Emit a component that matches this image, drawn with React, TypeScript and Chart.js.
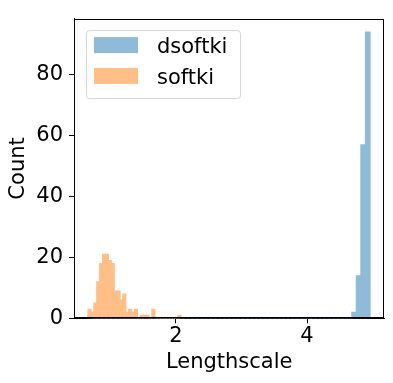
import { useEffect, useRef } from "react";
import { Chart, registerables } from "chart.js";

Chart.register(...registerables);

// ---- data (histogram counts) ----
const seriesLabels = ["dsoftki", "softki"];

// dsoftki: 62 bins from 0.658 to 4.962
const dsoftkiBinStart = 0.658;
const dsoftkiBinWidth = 0.06942;
const dsoftkiCounts = [
  1, 0, 0, 0, 0, 0, 0, 0, 0, 0,
  0, 0, 0, 0, 0, 0, 0, 0, 0, 0,
  0, 0, 0, 0, 0, 0, 0, 0, 0, 0,
  0, 0, 0, 0, 0, 0, 0, 0, 0, 0,
  0, 0, 0, 0, 0, 0, 0, 0, 0, 0,
  0, 0, 0, 0, 0, 0, 0, 0, 2, 14,
  57, 94,
];

// softki: 32 bins from 0.658 to 2.076
const softkiBinStart = 0.658;
const softkiBinWidth = 0.04431;
const softkiCounts = [
  3, 2, 5, 12, 18, 21, 21, 19, 18, 9,
  9, 6, 8, 2, 3, 2, 3, 0, 1, 1,
  1, 0, 3, 0, 0, 0, 0, 0, 0, 0,
  0, 1,
];

const xTickValues = [2, 4];
const yTickValues = [0, 20, 40, 60, 80];
const xRange = [0.443, 5.18];
const yRange = [0, 98.4];

// tab:blue / tab:orange at 50% alpha, pre-blended on white
const seriesColors = ["rgb(143,187,217)", "rgb(255,191,134)"];

const FONT = "'DejaVu Sans', 'Liberation Sans', sans-serif";
const FONT_SIZE = 21;

const framePlugin = {
  id: "frame",
  afterDatasetsDraw(chart: any) {
    const { ctx, chartArea } = chart;
    const l = Math.round(chartArea.left) + 0.5;
    const t = Math.round(chartArea.top) + 0.5;
    const r = Math.round(chartArea.right) - 0.5;
    const b = Math.round(chartArea.bottom) - 0.5;
    ctx.save();
    ctx.strokeStyle = "#000";
    ctx.lineWidth = 1;
    ctx.strokeRect(l, t, r - l, b - t);
    ctx.restore();
  },
};

const legendPlugin = {
  id: "insideLegend",
  afterDraw(chart: any) {
    const { ctx, chartArea } = chart;
    const x0 = chartArea.left + 12;
    const y0 = chartArea.top + 11.5;
    const w = 154;
    const h = 68;
    ctx.save();
    ctx.beginPath();
    ctx.roundRect(x0 + 0.5, y0 + 0.5, w, h, 3);
    ctx.fillStyle = "rgba(255,255,255,0.8)";
    ctx.fill();
    ctx.strokeStyle = "rgba(204,204,204,0.8)";
    ctx.lineWidth = 1;
    ctx.stroke();
    const sets = [...chart.data.datasets].sort((a: any, b: any) => a.legendIndex - b.legendIndex);
    sets.forEach((ds: any, i: number) => {
      const rowTop = y0 + 7 + i * 30.8;
      ctx.fillStyle = ds.backgroundColor;
      ctx.fillRect(x0 + 8, rowTop, 44, 16);
      ctx.fillStyle = "#000";
      ctx.font = `${FONT_SIZE}px ${FONT}`;
      ctx.textBaseline = "alphabetic";
      ctx.textAlign = "left";
      ctx.fillText(ds.label, x0 + 71, rowTop + 16);
    });
    ctx.restore();
  },
};

export default function App() {
  const canvasRef = useRef<HTMLCanvasElement | null>(null);

  useEffect(() => {
    const canvas = canvasRef.current;
    if (!canvas) return;

    const dsoftkiData = dsoftkiCounts.map((c, i) => ({
      x: dsoftkiBinStart + (i + 0.5) * dsoftkiBinWidth,
      y: c,
    }));
    const softkiData = softkiCounts.map((c, i) => ({
      x: softkiBinStart + (i + 0.5) * softkiBinWidth,
      y: c,
    }));

    const tickFont = { family: FONT, size: FONT_SIZE };

    const chart = new Chart(canvas, {
      type: "bar",
      data: {
        datasets: [
          {
            label: seriesLabels[0],
            data: dsoftkiData,
            backgroundColor: seriesColors[0],
            borderWidth: 0,
            inflateAmount: 0.5,
            xAxisID: "x2",
            yAxisID: "y",
            barPercentage: 1.05,
            categoryPercentage: 1,
            grouped: false,
            order: 2,
            legendIndex: 0,
          } as any,
          {
            label: seriesLabels[1],
            data: softkiData,
            backgroundColor: seriesColors[1],
            borderWidth: 0,
            inflateAmount: 0.5,
            xAxisID: "x",
            yAxisID: "y",
            barPercentage: 1.08,
            categoryPercentage: 1,
            grouped: false,
            order: 1,
            legendIndex: 1,
          } as any,
        ],
      },
      options: {
        animation: false,
        responsive: false,
        maintainAspectRatio: false,
        layout: { padding: { top: 10.7, right: 8.7, left: 0, bottom: 0 } },
        plugins: {
          legend: { display: false },
          tooltip: { enabled: false },
        },
        scales: {
          x: {
            type: "linear",
            offset: false,
            min: xRange[0],
            max: xRange[1],
            afterBuildTicks: (s: any) => {
              s.ticks = xTickValues.map((v) => ({ value: v }));
            },
            afterFit: (s: any) => {
              s.height = 64.7;
            },
            ticks: { font: tickFont, color: "#000", padding: 1, maxRotation: 0, autoSkip: false },
            grid: {
              offset: false,
              drawOnChartArea: false,
              drawTicks: true,
              tickLength: 5,
              tickColor: "#000",
              tickWidth: 1,
            },
            border: { display: true, color: "#000", width: 1 },
            title: {
              display: true,
              text: "Lengthscale",
              font: tickFont,
              color: "#000",
              padding: { top: 0, bottom: 7.9 },
            },
          },
          x2: {
            type: "linear",
            offset: false,
            display: false,
            min: xRange[0],
            max: xRange[1],
            grid: { offset: false },
          },
          y: {
            type: "linear",
            min: yRange[0],
            max: yRange[1],
            afterBuildTicks: (s: any) => {
              s.ticks = yTickValues.map((v) => ({ value: v }));
            },
            afterFit: (s: any) => {
              s.width = 74;
            },
            ticks: { font: tickFont, color: "#000", padding: 6, autoSkip: false },
            grid: {
              drawOnChartArea: false,
              drawTicks: true,
              tickLength: 5,
              tickColor: "#000",
              tickWidth: 1,
            },
            border: { display: true, color: "#000", width: 1 },
            title: {
              display: true,
              text: "Count",
              font: tickFont,
              color: "#000",
              padding: { top: 5.7, bottom: 0 },
            },
          },
        },
      } as any,
      plugins: [framePlugin, legendPlugin],
    });

    return () => chart.destroy();
  }, []);

  return (
    <div style={{ position: "absolute", left: 0, top: 0, width: 393, height: 383, background: "#fff" }}>
      <canvas ref={canvasRef} width={393} height={383} style={{ width: 393, height: 383, display: "block" }} />
    </div>
  );
}
